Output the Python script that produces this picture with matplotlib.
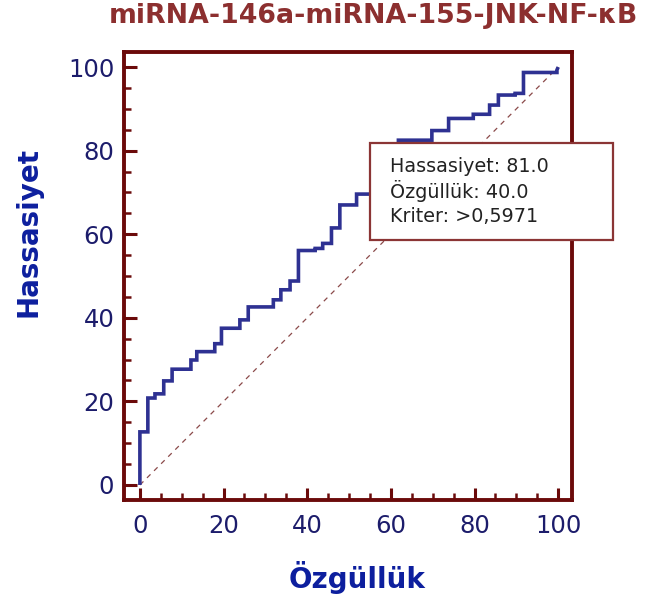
import matplotlib
matplotlib.use("Agg")
import matplotlib.pyplot as plt
from matplotlib.patches import Rectangle
from matplotlib.ticker import MultipleLocator

# ROC curve vertices: 100 - specificity (x) and sensitivity (y), in percent
fpr = [0.0, 0.0, 1.9, 1.9, 3.6, 3.6, 5.7, 5.7, 7.7, 7.7, 12.2, 12.2, 13.6, 13.6,
       17.9, 17.9, 19.5, 19.5, 23.9, 23.9, 25.9, 25.9, 31.9, 31.9, 33.7, 33.7,
       35.9, 35.9, 37.9, 37.9, 41.9, 41.9, 43.7, 43.7, 45.8, 45.8, 47.8, 47.8,
       51.8, 51.8, 55.9, 55.9, 57.9, 57.9, 59.9, 59.9, 61.8, 61.8, 69.8, 69.8,
       73.8, 73.8, 79.7, 79.7, 83.6, 83.6, 85.7, 85.7, 89.7, 89.7, 91.7, 91.7,
       99.7, 99.7, 100.0]
tpr = [0.0, 12.7, 12.7, 20.8, 20.8, 21.8, 21.8, 24.9, 24.9, 27.7, 27.7, 29.9,
       29.9, 31.9, 31.9, 33.8, 33.8, 37.5, 37.5, 39.5, 39.5, 42.6, 42.6, 44.3,
       44.3, 46.7, 46.7, 48.8, 48.8, 56.1, 56.1, 56.6, 56.6, 57.8, 57.8, 61.5,
       61.5, 67.0, 67.0, 69.6, 69.6, 74.0, 74.0, 78.6, 78.6, 81.0, 81.0, 82.5,
       82.5, 84.8, 84.8, 87.7, 87.7, 88.7, 88.7, 90.9, 90.9, 93.3, 93.3, 93.7,
       93.7, 98.7, 98.7, 99.3, 100.0]

diag = [0, 100]
ticks = [0, 20, 40, 60, 80, 100]

title = "miRNA-146a-miRNA-155-JNK-NF-κB"
xlabel = "Özgüllük"
ylabel = "Hassasiyet"
info_lines = ["Hassasiyet: 81.0", "Özgüllük: 40.0", "Kriter: >0,5971"]

frame_col = "#6b0a0a"
curve_col = "#2e3192"
tick_col = "#1c1c6b"
label_col = "#0d1f9e"
title_col = "#8c2f2f"

W, H = 654, 604
fig = plt.figure(figsize=(W / 100, H / 100), dpi=100)
ax = fig.add_axes([124 / W, 1 - 500 / H, (572 - 124) / W, (500 - 52) / H])

ax.plot(diag, diag, linestyle=(0, (4, 4)), color="#8b4a4a", linewidth=0.9)
ax.plot(fpr, tpr, color=curve_col, linewidth=2.6, solid_joinstyle="miter",
        solid_capstyle="butt")

ax.set_xlim(-3.8, 103.3)
ax.set_ylim(-3.6, 103.6)
ax.set_xticks(ticks)
ax.set_yticks(ticks)
ax.xaxis.set_minor_locator(MultipleLocator(5))
ax.yaxis.set_minor_locator(MultipleLocator(5))
ax.tick_params(which="major", direction="in", length=9, width=2.2,
               color=frame_col, labelsize=17.5, labelcolor=tick_col, pad=7)
ax.tick_params(axis="x", which="major", pad=10)
ax.tick_params(which="minor", direction="in", length=5, width=1.8,
               color=frame_col)
for lab in ax.get_xticklabels() + ax.get_yticklabels():
    lab.set_fontfamily("DejaVu Sans")
for s in ax.spines.values():
    s.set_color(frame_col)
    s.set_linewidth(2.8)

fig.text(373 / W, 1 - 16 / H, title, ha="center", va="center",
         fontsize=19.3, fontweight="bold", color=title_col,
         family="DejaVu Sans")
fig.text(357 / W, 1 - 578 / H, xlabel, ha="center", va="center",
         fontsize=20, fontweight="bold", color=label_col, family="DejaVu Sans")
fig.text(29 / W, 1 - 232 / H, ylabel, ha="center", va="center", rotation=90,
         fontsize=20, fontweight="bold", color=label_col, family="DejaVu Sans")

# criterion info box
bx0, bx1, by0, by1 = 370, 613, 143, 240
fig.patches.append(Rectangle((bx0 / W, 1 - by1 / H), (bx1 - bx0) / W,
                             (by1 - by0) / H, transform=fig.transFigure,
                             facecolor="white", edgecolor="#8b3535",
                             linewidth=1.6, zorder=5))
for i, line in enumerate(info_lines):
    fig.text(390 / W, 1 - (166 + i * 25) / H, line, ha="left", va="center",
             fontsize=13.8, color="#222222", family="DejaVu Sans", zorder=6)

fig.savefig("out.png", dpi=100, facecolor="white")
